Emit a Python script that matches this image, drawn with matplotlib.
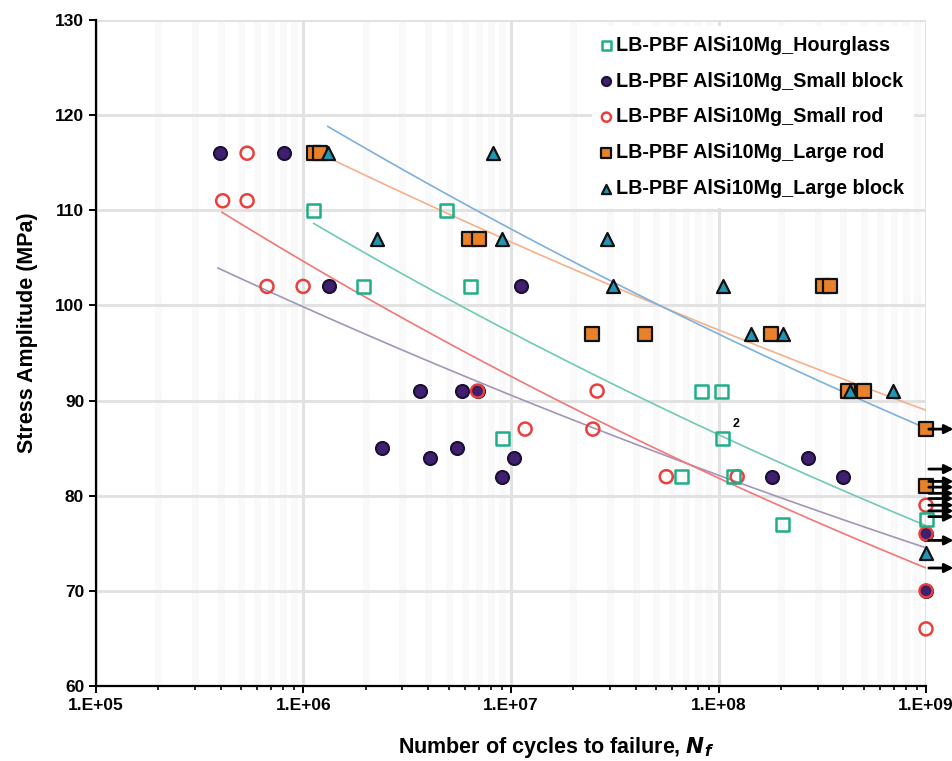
import numpy as np
import matplotlib
matplotlib.use("Agg")
import matplotlib.pyplot as plt
from matplotlib.ticker import LogLocator, NullFormatter

plt.rcParams['font.family'] = ['Liberation Sans', 'DejaVu Sans']
plt.rcParams['font.weight'] = 'bold'

# ---- data ----
hourglass_N = [1.12e6, 1.94e6, 4.9e6, 6.4e6, 9.1e6, 6.6e7, 8.3e7, 1.03e8, 1.05e8, 1.18e8, 2.04e8, 1e9]
hourglass_S = [110, 102, 110, 102, 86, 82, 91, 91, 86, 82, 77, 77.5]

small_block_N = [3.96e5, 8.05e5, 1.33e6, 2.39e6, 3.64e6, 4.07e6, 5.5e6, 5.8e6, 6.9e6, 9.06e6,
                 1.03e7, 1.12e7, 1.82e8, 2.69e8, 4.0e8, 1e9, 1e9]
small_block_S = [116, 116, 102, 85, 91, 84, 85, 91, 91, 82, 84, 102, 82, 84, 82, 76, 70]

small_rod_N = [5.35e5, 4.08e5, 5.35e5, 6.67e5, 9.96e5, 6.9e6, 1.17e7, 2.6e7, 2.48e7, 5.6e7,
               1.23e8, 1e9, 1e9, 1e9, 1e9]
small_rod_S = [116, 111, 111, 102, 102, 91, 87, 91, 87, 82, 82, 79, 76, 70, 66]

large_rod_N = [1.12e6, 1.2e6, 6.3e6, 7.0e6, 2.46e7, 4.4e7, 1.8e8, 3.2e8, 3.45e8, 4.2e8, 5.0e8, 1e9, 1e9]
large_rod_S = [116, 116, 107, 107, 97, 97, 97, 102, 102, 91, 91, 87, 81]

large_block_N = [1.31e6, 2.26e6, 8.2e6, 9.1e6, 2.9e7, 3.1e7, 1.05e8, 1.44e8, 2.04e8, 4.3e8, 6.9e8, 1e9]
large_block_S = [116, 107, 116, 107, 107, 102, 102, 97, 97, 91, 91, 74]

# run-outs (arrows at 1e9 cycles)
runout_S = [87, 82.8, 81.5, 80.9, 80.25, 79.7, 79.0, 78.4, 77.8, 75.3, 72.4]

# power-law trend lines S = A * N^b, drawn from N_start to 1e9
trend_A = [220.7, 179.2, 218.5, 201.2, 229.7]
trend_b = [-0.0509, -0.04234, -0.0533, -0.03937, -0.0468]
trend_start = [1.12e6, 3.87e5, 4.05e5, 1.12e6, 1.31e6]
trend_colors = ['#6fcab3', '#a394b8', '#f27676', '#f5b08c', '#7db0dc']

fig = plt.figure(figsize=(9.53, 7.61), dpi=100)
ax = fig.add_axes([0.1007, 0.0986, 0.8710, 0.8751])

ax.set_xscale('log')
ax.set_xlim(1e5, 1e9)
ax.set_ylim(60, 130)

# grid
ax.set_yticks(np.arange(60, 131, 10))
ax.xaxis.set_minor_locator(LogLocator(base=10, subs=np.arange(2, 10), numticks=20))
ax.xaxis.set_minor_formatter(NullFormatter())
ax.grid(True, which='major', axis='both', color='#e2e2e2', lw=2.2, zorder=0)
ax.grid(True, which='minor', axis='x', color='#f9f9f9', lw=5, zorder=0)
ax.set_axisbelow(True)

# trend lines
for A, b, n0, c in zip(trend_A, trend_b, trend_start, trend_colors):
    n = np.logspace(np.log10(n0), 9, 100)
    ax.plot(n, A * n ** b, color=c, lw=1.2, zorder=2)

ms = 88
ax.scatter(small_block_N, small_block_S, s=ms, marker='o', facecolor='#3f1f70',
           edgecolor='#1c0f33', lw=1.5, zorder=4, clip_on=False,
           label='LB-PBF AlSi10Mg_Small block')
ax.scatter(small_rod_N, small_rod_S, s=ms, marker='o', facecolor='none',
           edgecolor='#e8403c', lw=1.8, zorder=5, clip_on=False,
           label='LB-PBF AlSi10Mg_Small rod')
ax.scatter(hourglass_N, hourglass_S, s=ms, marker='s', facecolor='none',
           edgecolor='#1fae88', lw=1.8, zorder=5, clip_on=False,
           label='LB-PBF AlSi10Mg_Hourglass')
ax.scatter(large_rod_N, large_rod_S, s=ms, marker='s', facecolor='#e8822a',
           edgecolor='#111111', lw=1.6, zorder=4, clip_on=False,
           label='LB-PBF AlSi10Mg_Large rod')
ax.scatter(large_block_N, large_block_S, s=ms, marker='^', facecolor='#2396b5',
           edgecolor='#111111', lw=1.6, zorder=6, clip_on=False,
           label='LB-PBF AlSi10Mg_Large block')

# run-out arrows
for s in runout_S:
    ax.annotate('', xy=(1.4e9, s), xytext=(1.0e9, s),
                arrowprops=dict(arrowstyle='-|>', color='black', lw=2.0,
                                mutation_scale=13),
                annotation_clip=False, zorder=7)

ax.text(1.17e8, 87.2, '2', fontsize=9, fontweight='bold')

# axes styling
for side in ['top', 'right']:
    ax.spines[side].set_visible(False)
for side in ['left', 'bottom']:
    ax.spines[side].set_linewidth(1.6)
    ax.spines[side].set_color('black')
ax.set_xticks([1e5, 1e6, 1e7, 1e8, 1e9])
ax.set_xticklabels(['1.E+05', '1.E+06', '1.E+07', '1.E+08', '1.E+09'])
ax.tick_params(axis='both', which='major', labelsize=12.5, width=1.4, length=5, direction='out')
ax.tick_params(axis='x', which='minor', width=1.2, length=3, direction='out')
for lab in ax.get_xticklabels() + ax.get_yticklabels():
    lab.set_fontweight('bold')

ax.set_xlabel(r'Number of cycles to failure, $\mathbfit{N}_\mathbfit{f}$', fontsize=15.5,
              fontweight='bold')
ax.xaxis.set_label_coords(0.554, -0.074)
ax.set_ylabel('Stress Amplitude (MPa)', fontsize=15.5, fontweight='bold')
ax.yaxis.set_label_coords(-0.07, 0.53)

handles, labels = ax.get_legend_handles_labels()
order = [2, 0, 1, 3, 4]
leg = ax.legend([handles[i] for i in order], [labels[i] for i in order],
                loc='upper left', bbox_to_anchor=(0.59, 1.0), frameon=True,
                fancybox=False, edgecolor='none', facecolor='white', framealpha=1,
                prop={'size': 14.2, 'weight': 'bold'}, markerscale=0.7,
                handlelength=0.5, handletextpad=0.25, labelspacing=0.85,
                borderpad=0.5, borderaxespad=0.3)

fig.savefig('out.png', dpi=100)
